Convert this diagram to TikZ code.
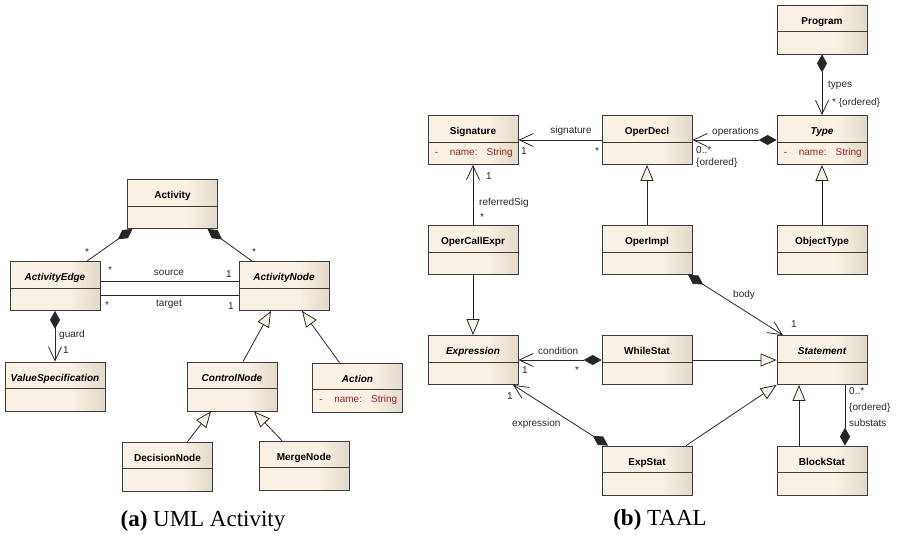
\documentclass[tikz,border=0pt]{standalone}
\usepackage{fontspec}
\setmainfont{Liberation Serif}
\setsansfont{Liberation Sans}
\usetikzlibrary{arrows.meta}

\definecolor{clsL}{RGB}{249,241,228}
\definecolor{clsR}{RGB}{226,217,201}
\definecolor{clsLine}{RGB}{60,60,60}
\definecolor{attrRed}{RGB}{160,32,28}

% light body, darker towards the right edge
\pgfdeclarehorizontalshading{clsfill}{100bp}{color(0bp)=(clsL); color(25bp)=(clsL);
  color(58bp)=(clsL); color(75bp)=(clsR); color(100bp)=(clsR)}

% class box: [extra options]{node name}{centre}{class name}{attribute}
\newcommand{\umlclass}[5][]{%
  \node[cls, #1] (#2) at (#3) {};
  \draw[divider] ([yshift=-27pt]#2.north west) -- ([yshift=-27pt]#2.north east);
  \node[clsname] (#2-name) at ([yshift=-19.5pt]#2.north) {#4};
  \node[attr] (#2-attr) at ([xshift=7pt,yshift=-40pt]#2.north west) {#5};
}
\newcommand{\nameattr}{\makebox[15pt][l]{-}name:\hspace{9pt}String}

\begin{document}
\begin{tikzpicture}[
    x=1pt, y=-1pt,
    UmlDiamond/.tip={Diamond[length=18pt,width=10pt]},
    UmlOpen/.tip={Straight Barb[length=14pt,width=13pt]},
    UmlTriangle/.tip={Triangle[length=16pt,width=13pt,fill=clsL]},
    cls/.style={draw=clsLine, line width=0.8pt, shading=clsfill,
                minimum width=90pt, minimum height=49pt, inner sep=0pt},
    divider/.style={draw=clsLine, line width=0.8pt},
    clsname/.style={font=\sffamily\bfseries\fontsize{10}{12}\selectfont, inner sep=0pt, anchor=base},
    attr/.style={font=\sffamily\fontsize{10}{12}\selectfont, text=attrRed, inner sep=0pt, anchor=base west},
    lbl/.style={font=\sffamily\fontsize{10}{12}\selectfont, text=black!85, inner sep=0pt, anchor=base west},
    mid/.style={lbl, anchor=base},
    caption/.style={font=\rmfamily\fontsize{23}{27}\selectfont, inner sep=0pt, anchor=base},
    conn/.style={draw=black!85, line width=0.8pt},
    comp/.style={conn, -UmlDiamond},
    compnav/.style={conn, UmlDiamond-UmlOpen},
    nav/.style={conn, -UmlOpen},
    gen/.style={conn, -UmlTriangle}
]
\useasboundingbox (0,0) rectangle (899,535);

%% (a) UML Activity
\umlclass{Activity}{172.5,204}{Activity}{}
\umlclass{ActivityEdge}{55,286}{\itshape ActivityEdge}{}
\umlclass{ActivityNode}{284,286}{\itshape ActivityNode}{}
\umlclass[minimum width=100pt]{ValueSpec}{55,386.5}{\itshape ValueSpecification}{}
\umlclass{ControlNode}{232,386.5}{\itshape ControlNode}{}
\umlclass{Action}{357.5,387.5}{\itshape Action}{\nameattr}
\umlclass{DecisionNode}{167.5,466.5}{DecisionNode}{}
\umlclass{MergeNode}{304,465.5}{MergeNode}{}

\draw[comp] ([xshift=32pt]ActivityEdge.north) -- ([xshift=-40pt]Activity.south);
\draw[comp] ([xshift=-32pt]ActivityNode.north) -- ([xshift=35pt]Activity.south);
\draw[conn] ([yshift=5pt]ActivityEdge.east) -- ([yshift=5pt]ActivityNode.west);
\draw[conn] ([yshift=-9pt]ActivityEdge.east) -- ([yshift=-9pt]ActivityNode.west);
\draw[compnav] (ActivityEdge.south) -- (ValueSpec.north);
\draw[gen] ([xshift=11pt]ControlNode.north) -- ([xshift=-13pt]ActivityNode.south);
\draw[gen] ([xshift=-18pt]Action.north) -- ([xshift=18pt]ActivityNode.south);
\draw[gen] ([xshift=20pt]DecisionNode.north) -- ([xshift=-21pt]ControlNode.south);
\draw[gen] ([xshift=-22pt]MergeNode.north) -- ([xshift=22pt]ControlNode.south);

\node[mid] (edge-star) at (87,255) {*};
\node[mid] (node-star) at (254,255) {*};
\node[mid] (src-star) at (110,273) {*};
\node[mid] (src-name) at (169,275) {source};
\node[mid] (src-one) at (229,277) {1};
\node[mid] (tgt-star) at (107,308) {*};
\node[mid] (tgt-name) at (169,306) {target};
\node[mid] (tgt-one) at (231,309) {1};
\node[lbl] (guard-name) at (59,337) {guard};
\node[lbl] (guard-one) at (63,353) {1};

\node[caption] (cap-a) at (203,526) {\textbf{(a)} UML Activity};

%% (b) TAAL
\umlclass{Program}{822,29.5}{Program}{}
\umlclass{Signature}{473,140}{Signature}{\nameattr}
\umlclass{OperDecl}{647,140}{OperDecl}{}
\umlclass{Type}{822,140}{\itshape Type}{\nameattr}
\umlclass{OperCallExpr}{473,250}{OperCallExpr}{}
\umlclass{OperImpl}{647,250}{OperImpl}{}
\umlclass{ObjectType}{822,250}{ObjectType}{}
\umlclass{Expression}{473,360}{\itshape Expression}{}
\umlclass{WhileStat}{647,360}{WhileStat}{}
\umlclass{Statement}{822,360}{\itshape Statement}{}
\umlclass{ExpStat}{647,470.5}{ExpStat}{}
\umlclass{BlockStat}{822,470.5}{BlockStat}{}

\draw[compnav] (Program.south) -- (Type.north);
\draw[nav] (OperDecl.west) -- (Signature.east);
\draw[compnav] (Type.west) -- (OperDecl.east);
\draw[nav] (OperCallExpr.north) -- (Signature.south);
\draw[gen] (OperImpl.north) -- (OperDecl.south);
\draw[gen] (ObjectType.north) -- (Type.south);
\draw[gen] (OperCallExpr.south) -- (Expression.north);
\draw[compnav] ([xshift=41pt]OperImpl.south) -- ([xshift=-39pt]Statement.north);
\draw[compnav] (WhileStat.west) -- (Expression.east);
\draw[gen] (WhileStat.east) -- (Statement.west);
\draw[compnav] ([xshift=-39pt]ExpStat.north) -- ([xshift=40pt]Expression.south);
\draw[gen] ([xshift=39pt]ExpStat.north) -- (Statement.south west);
\draw[gen] ([xshift=-23pt]BlockStat.north) -- ([xshift=-23pt]Statement.south);
\draw[comp] ([xshift=23pt]Statement.south) -- ([xshift=23pt]BlockStat.north);

\node[lbl] (types-name) at (828,87) {types};
\node[lbl] (types-mult) at (832,105) {* \{ordered\}};
\node[mid] (sig-name) at (571,133) {signature};
\node[lbl] (sig-one) at (521,154) {1};
\node[mid] (sig-star) at (597,154) {*};
\node[lbl] (ops-name) at (712,134) {operations};
\node[lbl] (ops-mult) at (696,153) {0..*};
\node[lbl] (ops-ord) at (696,165) {\{ordered\}};
\node[lbl] (ref-one) at (486,179) {1};
\node[lbl] (ref-name) at (479,205) {referredSig};
\node[mid] (ref-star) at (482,220) {*};
\node[lbl] (body-name) at (733,297) {body};
\node[lbl] (body-one) at (791,327) {1};
\node[lbl] (cond-name) at (538,354) {condition};
\node[lbl] (cond-one) at (522,373) {1};
\node[mid] (cond-star) at (577,373) {*};
\node[lbl] (exp-one) at (507,399) {1};
\node[lbl] (exp-name) at (512,426) {expression};
\node[lbl] (sub-mult) at (849,394) {0..*};
\node[lbl] (sub-ord) at (849,410) {\{ordered\}};
\node[lbl] (sub-name) at (849,426) {substats};

\node[caption] (cap-b) at (660,525) {\textbf{(b)} TAAL};

\end{tikzpicture}
\end{document}
